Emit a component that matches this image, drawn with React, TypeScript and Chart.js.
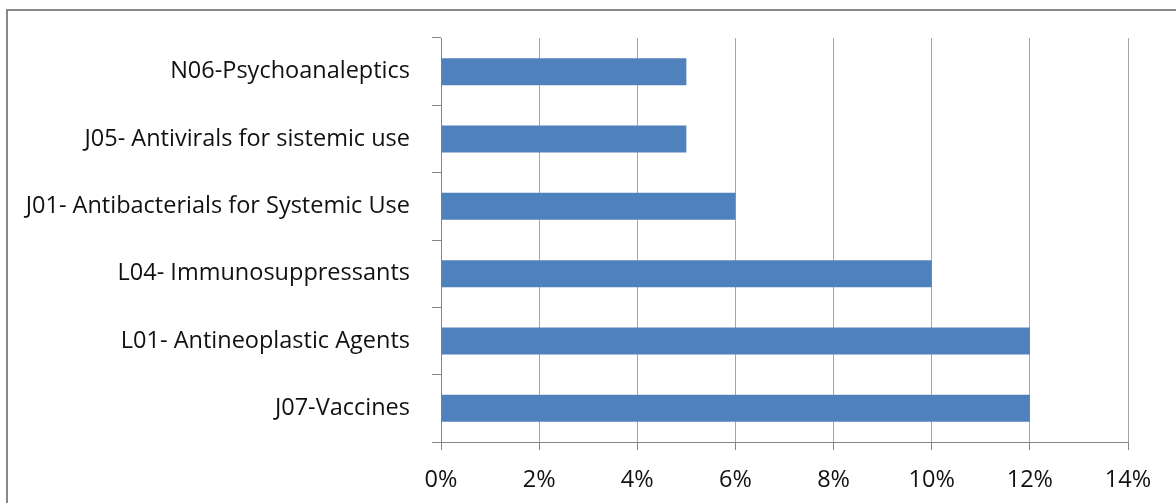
import React, { useEffect, useRef } from "react";
import { Chart, registerables } from "chart.js";

Chart.register(...registerables);

const categories = [
  "N06-Psychoanaleptics",
  "J05- Antivirals for sistemic use",
  "J01- Antibacterials for Systemic Use",
  "L04- Immunosuppressants",
  "L01- Antineoplastic Agents",
  "J07-Vaccines",
];
const values = [5, 5, 6, 10, 12, 12];
const xMin = 0;
const xMax = 14;
const xStep = 2;

const FONT = "'Open Sans', 'Liberation Sans', sans-serif";

export default function App() {
  const ref = useRef<HTMLCanvasElement | null>(null);

  useEffect(() => {
    if (!ref.current) return;
    const chart = new Chart(ref.current, {
      type: "bar",
      data: {
        labels: categories,
        datasets: [
          {
            data: values,
            backgroundColor: "#4F81BD",
            borderWidth: 0,
            categoryPercentage: 1,
            barPercentage: 0.4,
          },
        ],
      },
      options: {
        indexAxis: "y",
        animation: false,
        responsive: false,
        maintainAspectRatio: false,
        layout: { padding: { left: 0, right: 48, top: 38, bottom: 0 } },
        plugins: { legend: { display: false }, tooltip: { enabled: false } },
        scales: {
          x: {
            min: xMin,
            max: xMax,
            ticks: {
              stepSize: xStep,
              callback: (v: any) => v + "%",
              color: "#111111",
              font: { family: FONT, size: 23.5 },
              padding: 16,
            },
            grid: {
              color: "#a6a6a6",
              lineWidth: 1,
              tickLength: 8,
              tickColor: "#868686",
            },
            border: { color: "#868686", width: 1 },
            afterFit: (s: any) => {
              s.height = 61;
            },
          },
          y: {
            ticks: {
              color: "#111111",
              font: { family: FONT, size: 23.5 },
              padding: 22,
            },
            grid: {
              drawOnChartArea: false,
              tickLength: 9,
              tickColor: "#868686",
              offset: true,
            },
            border: { color: "#868686", width: 1 },
            afterFit: (s: any) => {
              s.width = 441;
            },
          },
        },
      },
    });
    return () => chart.destroy();
  }, []);

  return (
    <div style={{ position: "absolute", left: 0, top: 0, width: 1176, height: 503, overflow: "hidden", background: "#fff" }}>
      <div
        style={{
          position: "absolute",
          left: 6,
          top: 9,
          width: 1300,
          height: 600,
          border: "2px solid #888888",
          boxSizing: "border-box",
        }}
      />
      <canvas ref={ref} width={1176} height={503} style={{ position: "absolute", left: 0, top: 0 }} />
    </div>
  );
}
